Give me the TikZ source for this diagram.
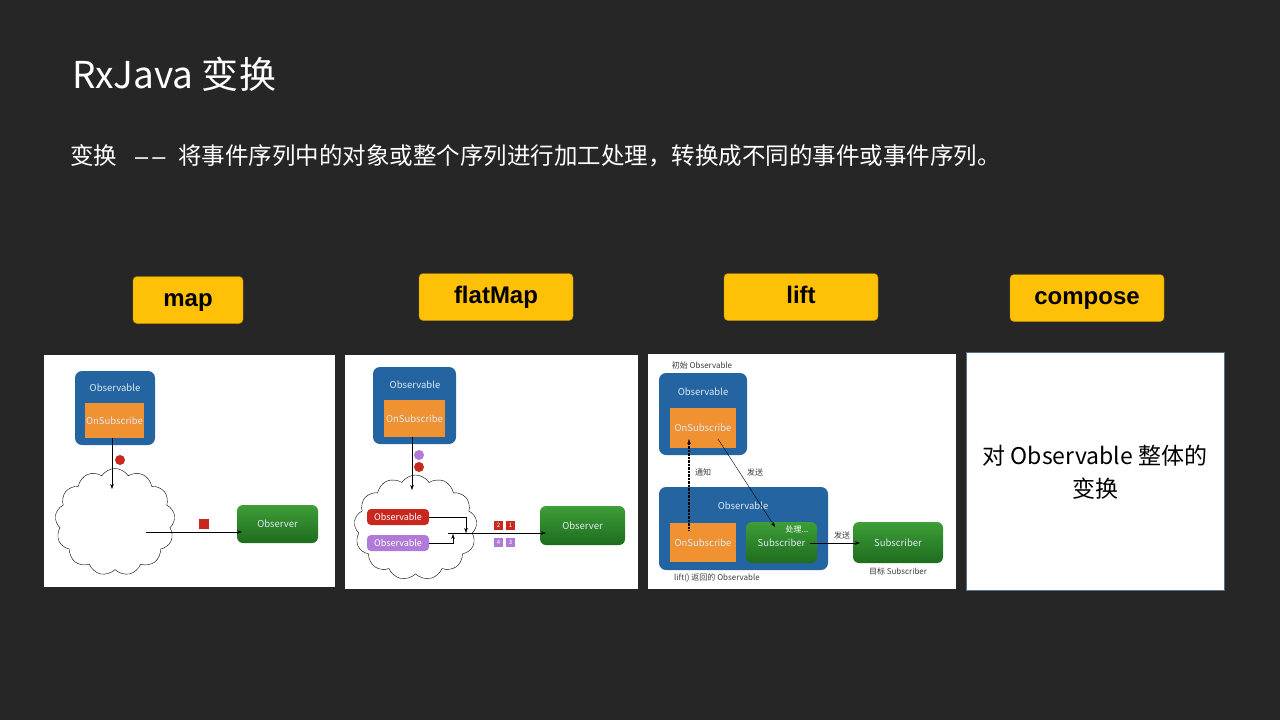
\documentclass[tikz,border=0pt]{standalone}
\usepackage{fontspec}
\setmainfont{Noto Sans CJK SC}
\newfontfamily\tagfont{Liberation Sans}
\usetikzlibrary{arrows.meta, positioning, shapes.symbols}

\definecolor{slide}{RGB}{38,38,38}
\definecolor{tagyellow}{RGB}{255,193,7}
\definecolor{tagedge}{RGB}{180,135,0}
\definecolor{obsblue}{RGB}{36,100,160}
\definecolor{onsuborange}{RGB}{241,146,50}
\definecolor{greentop}{RGB}{62,158,56}
\definecolor{greenbot}{RGB}{30,108,30}
\definecolor{evred}{RGB}{200,40,30}
\definecolor{evpurple}{RGB}{176,122,216}
\definecolor{boxtext}{RGB}{222,234,246}
\definecolor{framegray}{RGB}{84,112,140}
\definecolor{captiongray}{RGB}{60,60,60}

\begin{document}
\begin{tikzpicture}[
x=1pt, y=-1pt,
every node/.style={inner sep=0pt},
tag/.style={draw=tagedge, fill=tagyellow, rounded corners=4pt, minimum height=47pt, text height=17pt, text depth=5pt, font=\tagfont\bfseries\fontsize{24}{28}\selectfont},
panel/.style={fill=white, minimum width=#1},
obsbox/.style={fill=obsblue, rounded corners=7pt},
onsub/.style={fill=onsuborange, text=boxtext, font=\fontsize{9.5}{11}\selectfont},
greenbox/.style={top color=greentop, bottom color=greenbot, rounded corners=6pt, text=boxtext, font=\fontsize{9.5}{11}\selectfont},
boxlabel/.style={text=boxtext, font=\fontsize{9.5}{11}\selectfont},
smallobs/.style={rounded corners=4pt, minimum width=62pt, minimum height=16pt, text=white, font=\fontsize{9}{10}\selectfont},
evdot/.style={circle, minimum size=10pt},
evsq/.style={minimum size=9pt, text=white, font=\fontsize{6}{7}\selectfont},
puff/.style={cloud, draw, fill=white, cloud puffs=13, cloud puff arc=115, thin},
caption/.style={text=captiongray, font=\fontsize{8}{9}\selectfont},
arrow/.style={-{Stealth[length=5pt, width=3.5pt]}, thin}
]

\useasboundingbox (0,0) rectangle (1280,720);
\fill[slide] (0,0) rectangle (1280,720);

\node[anchor=base west, text=white, font=\fontsize{37}{40}\selectfont] (title) at (72,88) {RxJava 变换};
\node[anchor=base west, text=white, font=\fontsize{23.5}{28}\selectfont] (intro) at (70,164)
  {变换\hspace{18pt}{\tagfont –\hspace{4pt}–}\hspace{13pt}将事件序列中的对象或整个序列进行加工处理，转换成不同的事件或事件序列。};

\node[tag, minimum width=110pt] (map) at (188,300) {map};
\node[tag, minimum width=154pt] (flatmap) at (496,297) {flatMap};
\node[tag, minimum width=154pt] (lift) at (801,297) {lift};
\node[tag, minimum width=154pt] (compose) at (1087,298) {compose};

% map
\node[panel=291pt, minimum height=232pt] (mapimg) at (189.5,471) {};
\node[obsbox, minimum width=80pt, minimum height=74pt] (obsA) at (115,408) {};
\node[boxlabel] (obsAlbl) at (115,388) {Observable};
\node[onsub, minimum width=59pt, minimum height=35pt] (onsubA) at (114.5,420.5) {OnSubscribe};
\node[puff, minimum width=120pt, minimum height=107pt] (cloudA) at (115,522) {};
\node[evdot, fill=evred] (dotA) at (120,460) {};
\node[evsq, fill=evred, minimum size=10pt] (sqA) at (204,524) {};
\node[greenbox, minimum width=81pt, minimum height=38pt] (observerA) at (277.5,524) {Observer};
\coordinate (inA) at (112,489);
\coordinate (outA) at (146,532);
\coordinate (endA) at (242,532);
\draw[arrow] (onsubA.south -| inA) -- (inA);
\draw[arrow] (outA) -- (endA);

% flatMap
\node[panel=293pt, minimum height=234pt] (flatimg) at (491.5,472) {};
\node[obsbox, minimum width=83pt, minimum height=77pt] (obsB) at (414.5,405.5) {};
\node[boxlabel] (obsBlbl) at (415,385) {Observable};
\node[onsub, minimum width=61pt, minimum height=37pt] (onsubB) at (414.5,418.5) {OnSubscribe};
\node[puff, minimum width=123pt, minimum height=105pt] (cloudB) at (415.5,527.5) {};
\node[evdot, fill=evpurple] (dotB1) at (419,455) {};
\node[evdot, fill=evred] (dotB2) at (419,467) {};
\node[smallobs, fill=evred] (redobs) at (398,517) {Observable};
\node[smallobs, fill=evpurple] (purpleobs) at (398,543) {Observable};
\node[evsq, fill=evred] (ev2) at (498.5,525.5) {2};
\node[evsq, fill=evred] (ev1) at (510.5,525.5) {1};
\node[evsq, fill=evpurple] (ev4) at (498.5,542.5) {4};
\node[evsq, fill=evpurple] (ev3) at (510.5,542.5) {3};
\node[greenbox, minimum width=85pt, minimum height=39pt] (observerB) at (582.5,525.5) {Observer};
\coordinate (inB) at (412,490);
\coordinate (outB) at (448,533);
\coordinate (endB) at (546,533);
\draw[arrow] (onsubB.south -| inB) -- (inB);
\draw[arrow] (redobs.east) -- (466,517) -- (466,533);
\draw[arrow] (purpleobs.east) -- (453,543) -- (453,534);
\draw[arrow] (outB) -- (endB);

% lift
\node[panel=308pt, minimum height=235pt] (liftimg) at (802,471.5) {};
\node[caption] (srccap) at (702,365) {初始 Observable};
\node[obsbox, minimum width=88pt, minimum height=82pt] (obsC) at (703,414) {};
\node[boxlabel] (obsClbl) at (703,392) {Observable};
\node[onsub, minimum width=66pt, minimum height=40pt] (onsubC) at (703,428) {OnSubscribe};
\node[obsbox, minimum width=169pt, minimum height=83pt] (obsD) at (743.5,528.5) {};
\node[boxlabel] (obsDlbl) at (743,506) {Observable};
\node[onsub, minimum width=66pt, minimum height=39pt] (onsubD) at (703,542.5) {OnSubscribe};
\node[greenbox, minimum width=71pt, minimum height=41pt] (subC) at (781.5,542.5) {Subscriber};
\node[text=white, font=\fontsize{8}{9}\selectfont] (proc) at (797,529) {处理...};
\node[greenbox, minimum width=90pt, minimum height=41pt] (subD) at (898,542.5) {Subscriber};
\node[caption] (dstcap) at (898,571) {目标 Subscriber};
\node[caption] (liftcap) at (717,578) {lift() 返回的 Observable};
\node[caption] (notify) at (703,472) {通知};
\node[caption] (send1) at (755,472) {发送};
\node[caption] (send2) at (842,535) {发送};
\coordinate (notifyS) at (689,530);
\coordinate (notifyE) at (689,439);
\coordinate (sendS) at (718,439);
\coordinate (sendE) at (775,527);
\coordinate (passS) at (810,543);
\coordinate (passE) at (860,543);
\draw[arrow, densely dotted, line width=1.2pt] (notifyS) -- (notifyE);
\draw[arrow] (sendS) -- (sendE);
\draw[arrow] (passS) -- (passE);

% compose
\node[panel=258pt, minimum height=238pt, draw=framegray] (composeimg) at (1095,471) {};
\node[align=center, font=\fontsize{23}{33}\selectfont] (whole) at (1095,472) {对 Observable 整体的\\变换};

\end{tikzpicture}
\end{document}
